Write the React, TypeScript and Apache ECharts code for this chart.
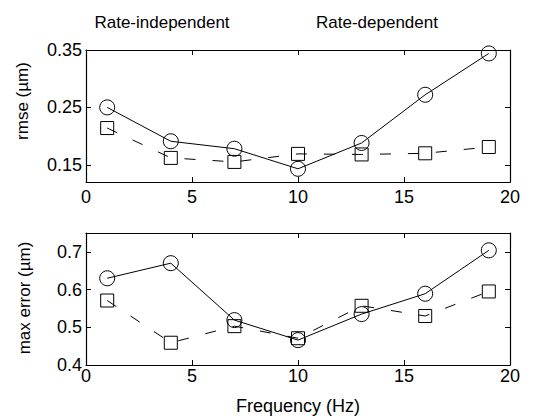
import React, { useEffect, useRef } from "react";
import * as echarts from "echarts";

const freq = [1, 4, 7, 10, 13, 16, 19];
const rmseCircle = [0.25, 0.191, 0.178, 0.143, 0.188, 0.272, 0.344];
const rmseSquare = [0.214, 0.162, 0.155, 0.169, 0.168, 0.17, 0.181];
const maxCircle = [0.63, 0.67, 0.519, 0.466, 0.535, 0.589, 0.704];
const maxSquare = [0.571, 0.459, 0.503, 0.471, 0.557, 0.53, 0.595];
const xTicks = [0, 5, 10, 15, 20];
const rmseTicks = [0.15, 0.25, 0.35];
const maxTicks = [0.4, 0.5, 0.6, 0.7];

const FONT = "Liberation Sans, Arial, sans-serif";

function xAxes(grid: number, labelMargin: number) {
  const line = { show: true, onZero: false, lineStyle: { color: "#000", width: 1.2 } };
  return [
    {
      gridIndex: grid, type: "value", min: xTicks[0], max: xTicks[xTicks.length - 1], interval: 5,
      position: "bottom", axisLine: line,
      axisTick: { show: true, inside: true, length: 5, lineStyle: { color: "#000" } },
      axisLabel: { show: true, color: "#000", fontSize: 18, fontFamily: FONT, margin: labelMargin },
      splitLine: { show: false },
    },
    {
      gridIndex: grid, type: "value", min: xTicks[0], max: xTicks[xTicks.length - 1], interval: 5,
      position: "top", axisLine: line,
      axisTick: { show: true, inside: true, length: 5, lineStyle: { color: "#000" } },
      axisLabel: { show: false },
      splitLine: { show: false },
    },
  ];
}

function yAxes(grid: number, min: number, max: number, ticks: number[], digits: number) {
  const line = { show: true, onZero: false, lineStyle: { color: "#000", width: 1.2 } };
  return [
    {
      gridIndex: grid, type: "value", min, max, position: "left", axisLine: line,
      axisTick: { show: true, inside: true, length: 5, customValues: ticks, lineStyle: { color: "#000" } },
      axisLabel: {
        show: true, customValues: ticks, color: "#000", fontSize: 18, fontFamily: FONT, margin: 4,
        formatter: (v: number) => v.toFixed(digits),
      },
      splitLine: { show: false },
    },
    {
      gridIndex: grid, type: "value", min, max, position: "right", axisLine: line,
      axisTick: { show: true, inside: true, length: 5, customValues: ticks, lineStyle: { color: "#000" } },
      axisLabel: { show: false },
      splitLine: { show: false },
    },
  ];
}

function mk(vals: number[], symbol: string, size: number, dashed: boolean, xi: number, yi: number) {
  return {
    type: "line",
    xAxisIndex: xi,
    yAxisIndex: yi,
    data: freq.map((f, i) => [f, vals[i]]),
    symbol,
    symbolSize: size,
    showAllSymbol: true,
    lineStyle: { color: "#000", width: 1, type: dashed ? [11, 17] : "solid" },
    itemStyle: { color: "rgba(0,0,0,0)", borderColor: "#000", borderWidth: 1 },
    emphasis: { disabled: true },
    z: 3,
  };
}

export default function App() {
  const ref = useRef<HTMLDivElement>(null);
  useEffect(() => {
    if (!ref.current) return;
    const chart = echarts.init(ref.current, null, { renderer: "svg" });
    chart.setOption({
      animation: false,
      backgroundColor: "#fff",
      textStyle: { fontFamily: FONT },
      grid: [
        { left: 86, top: 50, width: 424, height: 132 },
        { left: 86, top: 233, width: 424, height: 132 },
      ],
      xAxis: [...xAxes(0, 6), ...xAxes(1, 2)],
      yAxis: [...yAxes(0, 0.12, 0.35, rmseTicks, 2), ...yAxes(1, 0.4, 0.75, maxTicks, 1)],
      series: [
        mk(rmseCircle, "circle", 15, false, 0, 0),
        mk(rmseSquare, "rect", 13, true, 0, 0),
        mk(maxCircle, "circle", 15, false, 2, 2),
        mk(maxSquare, "rect", 13, true, 2, 2),
      ],
      graphic: [
        { type: "text", x: 162, y: 22, style: { text: "Rate-independent", fontSize: 17, fontFamily: FONT, fill: "#000", textAlign: "center", textVerticalAlign: "middle" } },
        { type: "text", x: 377, y: 22, style: { text: "Rate-dependent", fontSize: 17, fontFamily: FONT, fill: "#000", textAlign: "center", textVerticalAlign: "middle" } },
        { type: "text", x: 22, y: 101, rotation: Math.PI / 2, style: { text: "rmse (µm)", fontSize: 17, fontFamily: FONT, fill: "#000", textAlign: "center", textVerticalAlign: "middle" } },
        { type: "text", x: 24, y: 298, rotation: Math.PI / 2, style: { text: "max error (µm)", fontSize: 17, fontFamily: FONT, fill: "#000", textAlign: "center", textVerticalAlign: "middle" } },
        { type: "text", x: 298, y: 406, style: { text: "Frequency (Hz)", fontSize: 18, fontFamily: FONT, fill: "#000", textAlign: "center", textVerticalAlign: "middle" } },
      ],
    });
    return () => chart.dispose();
  }, []);
  return (
    <div
      ref={ref}
      style={{ position: "fixed", left: 0, top: 0, width: 543, height: 419 }}
    />
  );
}
